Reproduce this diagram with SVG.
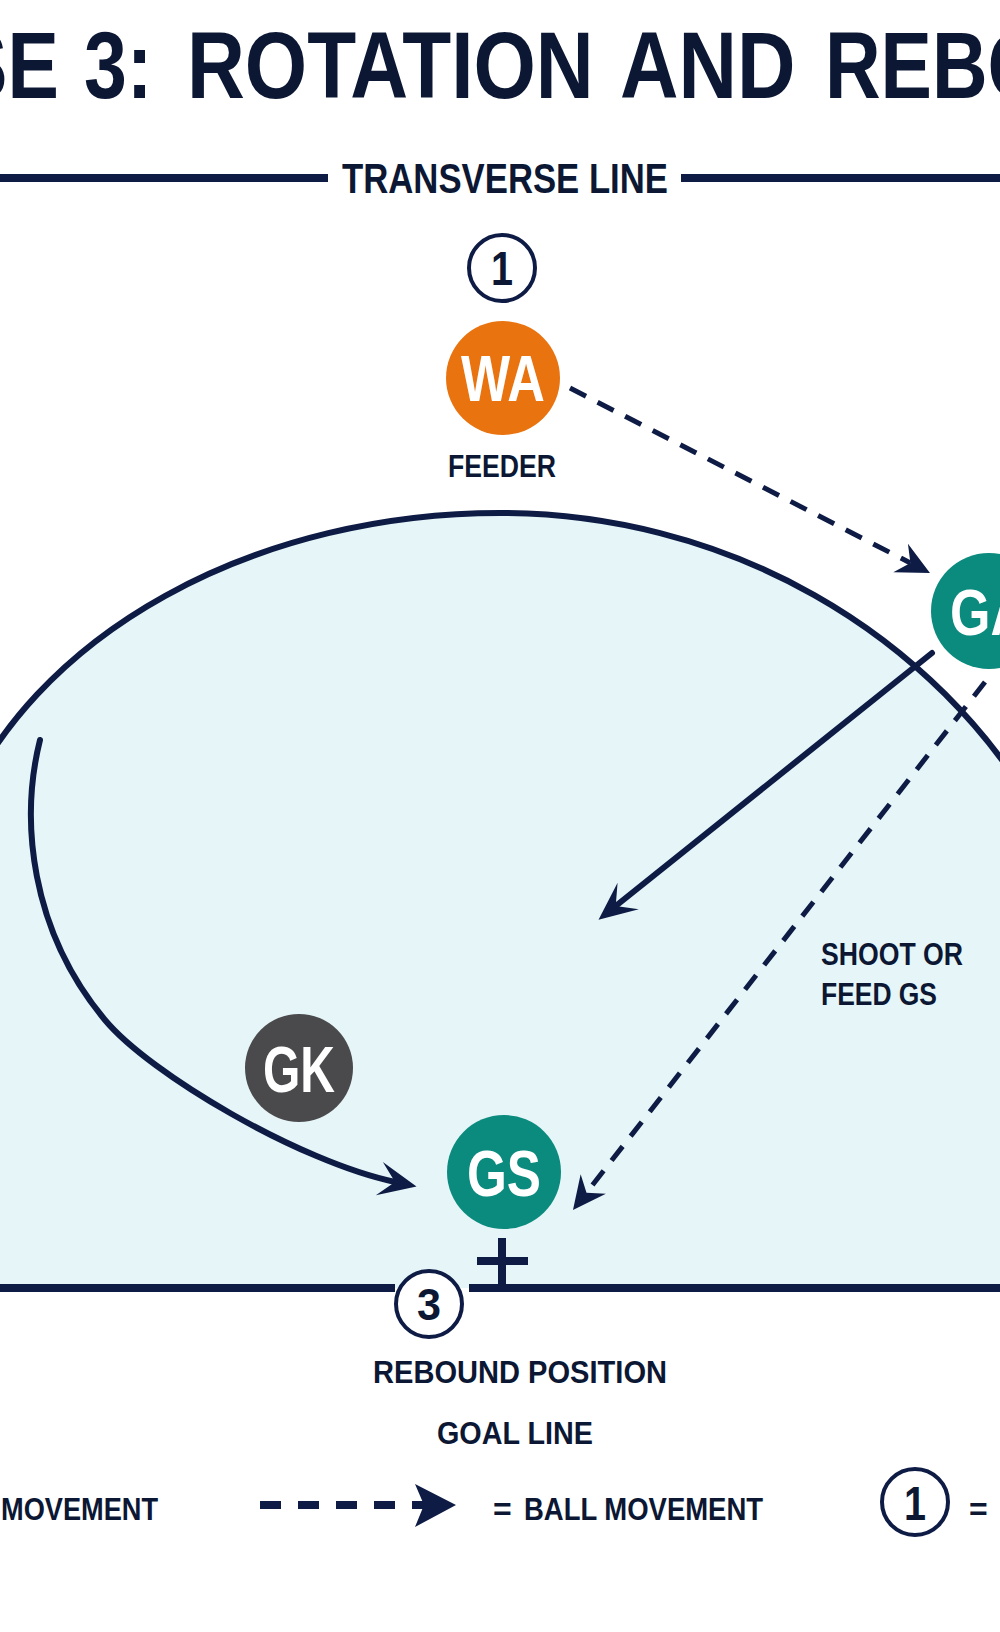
<svg xmlns="http://www.w3.org/2000/svg" width="1000" height="1632" viewBox="0 0 1000 1632">
<defs>
<style>
.t{font-family:"Liberation Sans","Arimo",Arial,sans-serif;font-weight:bold;fill:#0B1733}
.lbl{font-size:32px}
.court{stroke:#0E1C45;stroke-width:6;fill:none}
.bar{stroke:#0E1C45;stroke-width:8;fill:none}
.solid{stroke:#0E1C45;stroke-width:6;fill:none;stroke-linecap:round}
.dash{stroke:#0E1C45;stroke-width:5;fill:none;stroke-dasharray:18 13}
.num{fill:#ffffff;stroke:#0E1C45;stroke-width:4}
.numt{font-size:48px;text-anchor:middle}
.pl{fill:#ffffff;font-size:65px;text-anchor:middle}
</style>
<marker id="ahSolid" markerUnits="userSpaceOnUse" viewBox="-20 -20 45 40" refX="0" refY="0" markerWidth="45" markerHeight="40" orient="auto"><path d="M22,0 L-16,-17 L0,0 L-16,17 Z" fill="#0E1C45"/></marker>
<marker id="ahDash" markerUnits="userSpaceOnUse" viewBox="-20 -20 45 40" refX="0" refY="0" markerWidth="45" markerHeight="40" orient="auto"><path d="M22,0 L-11,-16 L0,0 L-11,16 Z" fill="#0E1C45"/></marker>
</defs>
<rect x="0" y="0" width="1000" height="1632" fill="#ffffff"/>

<g id="court">
<path d="M -40,812 A 566.5 428 0 0 1 500,513 A 614 582 0 0 1 1040,818 L 1040,1288 L -40,1288 Z" fill="#E6F5F7"/>
<path class="court" d="M -40,812 A 566.5 428 0 0 1 500,513 A 614 582 0 0 1 1040,818"/>
</g>

<g id="title" transform="scale(0.82 1)">
<text class="t" x="-53.7" y="98" font-size="94">SE</text>
<text class="t" x="102.4" y="98" font-size="94">3:</text>
<text class="t" x="228" y="98" font-size="94" textLength="496" lengthAdjust="spacingAndGlyphs">ROTATION</text>
<text class="t" x="756" y="98" font-size="94" textLength="214" lengthAdjust="spacingAndGlyphs">AND</text>
<text class="t" x="1006" y="98" font-size="94">REBO</text>
</g>

<g id="transverse-line">
<line class="bar" x1="0" y1="178" x2="328" y2="178"/>
<line class="bar" x1="681" y1="178" x2="1000" y2="178"/>
<text class="t" x="505" y="193" font-size="42" text-anchor="middle" textLength="326" lengthAdjust="spacingAndGlyphs">TRANSVERSE LINE</text>
</g>

<g id="goal-line">
<line class="bar" x1="0" y1="1288" x2="395" y2="1288"/>
<line class="bar" x1="469" y1="1288" x2="1000" y2="1288"/>
<text class="t lbl" x="515" y="1444" text-anchor="middle" textLength="156" lengthAdjust="spacingAndGlyphs">GOAL LINE</text>
</g>

<g id="goal-post">
<line class="bar" x1="502" y1="1238" x2="502" y2="1288"/>
<line class="bar" x1="477" y1="1261" x2="528" y2="1261"/>
</g>

<g id="connectors">
<path class="solid" d="M 40,740 C 20,820 30,930 105,1020 C 150,1074 300,1162 395,1182" marker-end="url(#ahSolid)"/>
<path class="solid" d="M 932,653 L 615.7,906" marker-end="url(#ahSolid)"/>
<path class="dash" d="M 570,388 L 910.4,563" marker-end="url(#ahDash)"/>
<path class="dash" d="M 985,682 L 586.5,1192.7" marker-end="url(#ahDash)"/>
</g>

<g id="step-1">
<circle class="num" cx="502" cy="268" r="33"/>
<text class="t numt" x="502" y="285" textLength="22" lengthAdjust="spacingAndGlyphs">1</text>
</g>

<g id="node-wa">
<circle cx="503" cy="378" r="57" fill="#E8730F"/>
<text class="t pl" x="503" y="401" textLength="84" lengthAdjust="spacingAndGlyphs">WA</text>
<text class="t lbl" x="502" y="477" text-anchor="middle" textLength="108" lengthAdjust="spacingAndGlyphs">FEEDER</text>
</g>

<g id="node-ga">
<circle cx="989" cy="611" r="58" fill="#0B8A7E"/>
<text class="t pl" x="989" y="635" textLength="78" lengthAdjust="spacingAndGlyphs">GA</text>
</g>

<g id="node-gk">
<circle cx="299" cy="1068" r="54" fill="#4A4A4C"/>
<text class="t pl" x="299" y="1092" textLength="72" lengthAdjust="spacingAndGlyphs">GK</text>
</g>

<g id="node-gs">
<circle cx="504" cy="1172" r="57" fill="#0B8A7E"/>
<text class="t pl" x="504" y="1196" textLength="74" lengthAdjust="spacingAndGlyphs">GS</text>
</g>

<g id="label-shoot">
<text class="t lbl" x="821" y="965" textLength="142" lengthAdjust="spacingAndGlyphs">SHOOT OR</text>
<text class="t lbl" x="821" y="1005" textLength="116" lengthAdjust="spacingAndGlyphs">FEED GS</text>
</g>

<g id="step-3">
<circle class="num" cx="429" cy="1304" r="33"/>
<text class="t" x="429" y="1320" font-size="44" text-anchor="middle" textLength="24" lengthAdjust="spacingAndGlyphs">3</text>
<text class="t lbl" x="520" y="1383" text-anchor="middle" textLength="294" lengthAdjust="spacingAndGlyphs">REBOUND POSITION</text>
</g>

<g id="legend">
<text class="t lbl" x="1" y="1520" textLength="157" lengthAdjust="spacingAndGlyphs">MOVEMENT</text>
<line x1="260" y1="1505" x2="424" y2="1505" stroke="#0E1C45" stroke-width="8" stroke-dasharray="21 17"/>
<path d="M456,1505 L415,1484 L424,1505 L415,1527 Z" fill="#0E1C45"/>
<text class="t lbl" x="493" y="1520">=</text>
<text class="t lbl" x="524" y="1520" textLength="239" lengthAdjust="spacingAndGlyphs">BALL MOVEMENT</text>
<circle class="num" cx="915" cy="1502" r="33"/>
<text class="t numt" x="915" y="1520" textLength="22" lengthAdjust="spacingAndGlyphs">1</text>
<text class="t lbl" x="969" y="1520">=</text>
</g>
</svg>
